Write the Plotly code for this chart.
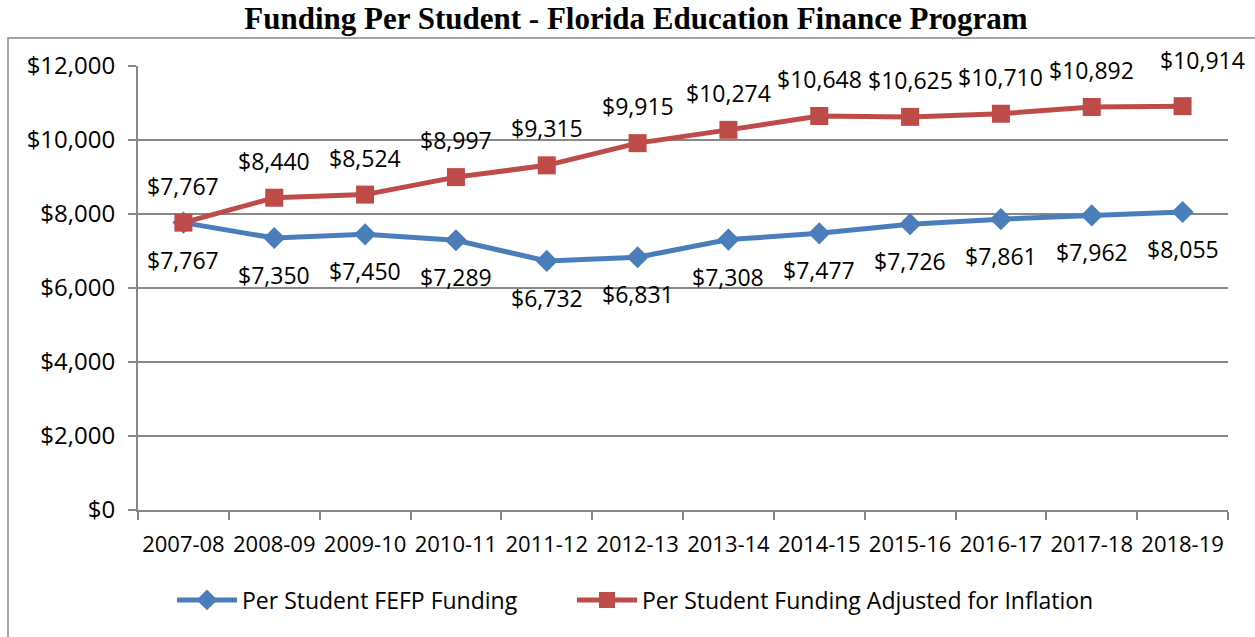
import plotly.graph_objects as go

years = ["2007-08", "2008-09", "2009-10", "2010-11", "2011-12", "2012-13",
         "2013-14", "2014-15", "2015-16", "2016-17", "2017-18", "2018-19"]
fefp = [7767, 7350, 7450, 7289, 6732, 6831, 7308, 7477, 7726, 7861, 7962, 8055]
adjusted = [7767, 8440, 8524, 8997, 9315, 9915, 10274, 10648, 10625, 10710, 10892, 10914]
y_ticks = [0, 2000, 4000, 6000, 8000, 10000, 12000]

BLUE = "#4A7EBB"
RED = "#BE4B48"
FONT = "Open Sans"
W, H = 1255, 637
L, T = 138, 66
R = W - 1228
B = H - 510

fig = go.Figure()
fig.add_trace(go.Scatter(
    x=years, y=fefp, name="Per Student FEFP Funding", mode="lines+markers",
    line=dict(color=BLUE, width=5),
    marker=dict(symbol="diamond", size=17, color=BLUE),
    legend="legend",
))
fig.add_trace(go.Scatter(
    x=years, y=adjusted, name="Per Student Funding Adjusted for Inflation",
    mode="lines+markers",
    line=dict(color=RED, width=5),
    marker=dict(symbol="square", size=18, color=RED),
    legend="legend2",
))

# data labels
for yr, v in zip(years, fefp):
    fig.add_annotation(x=yr, y=v, text=f"${v:,}", showarrow=False, yshift=-37,
                       font=dict(family=FONT, size=23, color="black"))
for i, (yr, v) in enumerate(zip(years, adjusted)):
    last = i == len(years) - 1
    fig.add_annotation(x=yr, y=v, text=f"${v:,}", showarrow=False,
                       yshift=46 if last else 37, xshift=20 if last else 0,
                       bgcolor="white" if last else "rgba(0,0,0,0)",
                       font=dict(family=FONT, size=23, color="black"))

# outer chart border (left and top visible)
pw = W - L - R
ph = H - T - B
fig.add_shape(type="rect", xref="paper", yref="paper",
              x0=(8 - L) / pw, x1=(W + 10 - L) / pw,
              y0=-(H + 10 - T - ph) / ph, y1=(ph + T - 38) / ph,
              line=dict(color="#868686", width=1.5), layer="below")

legend_style = dict(orientation="h", xanchor="left", y=-90 / ph, yanchor="middle",
                    font=dict(family=FONT, size=23, color="black"), itemwidth=60)

fig.update_layout(
    width=W, height=H,
    margin=dict(l=L, r=R, t=T, b=B, autoexpand=False),
    paper_bgcolor="white", plot_bgcolor="white",
    title=dict(text="<b>Funding Per Student - Florida Education Finance Program</b>",
               x=636 / W, xanchor="center", y=1 - 18 / H, yanchor="middle",
               font=dict(family="Liberation Serif", size=31, color="black")),
    font=dict(family=FONT, size=22, color="black"),
    showlegend=True,
    legend=dict(x=(172 - L) / pw, **legend_style),
    legend2=dict(x=(572 - L) / pw, **legend_style),
    xaxis=dict(type="category", range=[-0.5, len(years) - 0.5],
               showgrid=False, showline=True, linecolor="#868686",
               linewidth=2, ticks="outside", tickson="boundaries", ticklen=8,
               tickcolor="#868686", tickwidth=1.5, automargin=False,
               ticklabelstandoff=14, tickangle=0,
               tickfont=dict(family=FONT, size=22, color="black")),
    yaxis=dict(range=[0, 12000], tickvals=y_ticks,
               ticktext=[f"${v:,}" for v in y_ticks],
               showgrid=True, gridcolor="#888888", gridwidth=1.5,
               showline=True, linecolor="#868686", linewidth=2,
               ticks="outside", ticklen=8, tickcolor="#868686", tickwidth=1.5,
               ticklabelstandoff=8, zeroline=False, automargin=False,
               tickfont=dict(family=FONT, size=24, color="black")),
)

fig.write_html("out.html", config={"displayModeBar": False},
               post_script="document.body.style.margin='0';document.body.style.overflow='hidden';")
